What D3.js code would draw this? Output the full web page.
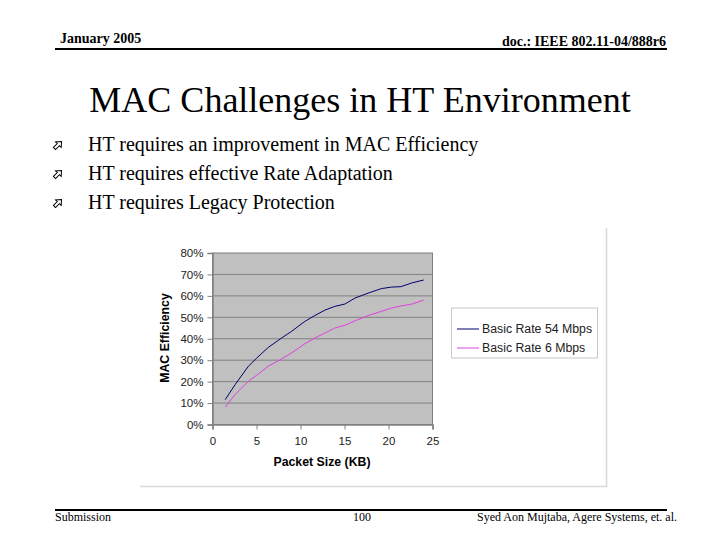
<!DOCTYPE html>
<html><head><meta charset="utf-8">
<script src="https://cdn.jsdelivr.net/npm/d3@7"></script>
<style>body{margin:0;background:#fff}svg{display:block}</style>
</head><body>
<script>
const packetSizes = [1.44, 2.57, 4.08, 5.03, 6.35, 7.87, 9.0, 10.5, 11.65, 12.8, 13.9, 15.05, 16.2, 17.7, 19.2, 20.35, 21.4, 22.7, 24.0];
const rate54 = [0.116, 0.186, 0.272, 0.31, 0.36, 0.404, 0.435, 0.481, 0.509, 0.534, 0.551, 0.562, 0.59, 0.613, 0.634, 0.641, 0.643, 0.661, 0.674];
const rate6  = [0.081, 0.14, 0.202, 0.23, 0.272, 0.306, 0.334, 0.377, 0.404, 0.427, 0.45, 0.463, 0.484, 0.508, 0.528, 0.543, 0.553, 0.562, 0.581];
const seriesNames = ["Basic Rate 54 Mbps", "Basic Rate 6 Mbps"];
const seriesColors = ["#000070", "#e040e0"];
const xTicks = [0, 5, 10, 15, 20, 25];
const yTicks = [0, 0.1, 0.2, 0.3, 0.4, 0.5, 0.6, 0.7, 0.8];
const bullets = ["HT requires an improvement in MAC Efficiency", "HT requires effective Rate Adaptation", "HT requires Legacy Protection"];

const svg = d3.select("body").append("svg").attr("width", 720).attr("height", 540);
const serif = "'Liberation Serif','Times New Roman',serif";
const sans = "'Liberation Sans',Arial,sans-serif";

// header
svg.append("text").attr("x", 60).attr("y", 43).attr("font-family", serif).attr("font-weight", "bold").attr("font-size", 14).text("January 2005");
svg.append("text").attr("x", 666).attr("y", 46).attr("text-anchor", "end").attr("font-family", serif).attr("font-weight", "bold").attr("font-size", 14).text("doc.: IEEE 802.11-04/888r6");
svg.append("line").attr("x1", 55).attr("x2", 667).attr("y1", 49).attr("y2", 49).attr("stroke", "#000").attr("stroke-width", 2);

// title
svg.append("text").attr("x", 360).attr("y", 112).attr("text-anchor", "middle").attr("font-family", serif).attr("font-size", 36).text("MAC Challenges in HT Environment");

// bullets
bullets.forEach((b, i) => {
  const cy = 145 + i * 29;
  const g = svg.append("g").attr("transform", `translate(58,${cy}) rotate(-45)`);
  g.append("path").attr("d", "M-5,-1.5 L0.5,-1.5 L0.5,-4 L5,0 L0.5,4 L0.5,1.5 L-5,1.5 Z").attr("fill", "none").attr("stroke", "#000").attr("stroke-width", 1);
  svg.append("text").attr("x", 88).attr("y", cy + 6).attr("font-family", serif).attr("font-size", 20).text(b);
});

// chart image frame
svg.append("path").attr("d", "M606.5,228 V486.5 H140").attr("fill", "none").attr("stroke", "#d8d8d8").attr("stroke-width", 1.5);

const m = {l: 212.5, r: 432.5, t: 253, b: 424.5};
const x = d3.scaleLinear().domain([0, 25]).range([m.l, m.r]);
const y = d3.scaleLinear().domain([0, 0.8]).range([m.b, m.t]);

svg.append("rect").attr("x", m.l).attr("y", m.t).attr("width", m.r - m.l).attr("height", m.b - m.t).attr("fill", "#c0c0c0").attr("stroke", "#808080").attr("stroke-width", 1);
svg.append("g").selectAll("line").data(yTicks.slice(1, -1)).join("line")
  .attr("x1", m.l).attr("x2", m.r).attr("y1", d => y(d)).attr("y2", d => y(d)).attr("stroke", "#808080").attr("stroke-width", 1);

const yAxis = svg.append("g").attr("transform", `translate(${m.l},0)`)
  .call(d3.axisLeft(y).tickValues(yTicks).tickFormat(d3.format(".0%")).tickSize(5).tickPadding(4));
const xAxis = svg.append("g").attr("transform", `translate(0,${m.b})`)
  .call(d3.axisBottom(x).tickValues(xTicks).tickFormat(d3.format("d")).tickSize(5).tickPadding(7));
[yAxis, xAxis].forEach(a => {
  a.select(".domain").attr("stroke", "#808080").attr("stroke-width", 1.5);
  a.selectAll(".tick line").attr("stroke", "#808080");
  a.selectAll("text").attr("font-family", sans).attr("font-size", 11.5).attr("fill", "#222");
});

const line = d3.line().x((d, i) => x(packetSizes[i])).y(d => y(d));
[rate54, rate6].forEach((s, k) => {
  svg.append("path").datum(s).attr("d", line).attr("fill", "none").attr("stroke", seriesColors[k]).attr("stroke-width", 1);
});

svg.append("text").attr("x", 322).attr("y", 466).attr("text-anchor", "middle").attr("font-family", sans).attr("font-weight", "bold").attr("font-size", 12.3).text("Packet Size (KB)");
svg.append("text").attr("transform", "translate(169,338) rotate(-90)").attr("text-anchor", "middle").attr("font-family", sans).attr("font-weight", "bold").attr("font-size", 12.3).text("MAC Efficiency");

// legend
svg.append("rect").attr("x", 451.5).attr("y", 308).attr("width", 146).attr("height", 50).attr("fill", "#fff").attr("stroke", "#c8c8c8");
seriesNames.forEach((n, k) => {
  const ly = 329 + k * 19;
  svg.append("line").attr("x1", 457).attr("x2", 479).attr("y1", ly).attr("y2", ly).attr("stroke", seriesColors[k]).attr("stroke-width", 1);
  svg.append("text").attr("x", 482).attr("y", ly + 4).attr("font-family", sans).attr("font-size", 12.3).attr("fill", "#222").text(n);
});

// footer
svg.append("line").attr("x1", 55).attr("x2", 667).attr("y1", 510).attr("y2", 510).attr("stroke", "#000").attr("stroke-width", 2);
svg.append("text").attr("x", 55).attr("y", 521).attr("font-family", serif).attr("font-size", 12).text("Submission");
svg.append("text").attr("x", 362).attr("y", 521).attr("text-anchor", "middle").attr("font-family", serif).attr("font-size", 12).text("100");
svg.append("text").attr("x", 677).attr("y", 521).attr("text-anchor", "end").attr("font-family", serif).attr("font-size", 12).text("Syed Aon Mujtaba, Agere Systems, et. al.");
</script>
</body></html>
